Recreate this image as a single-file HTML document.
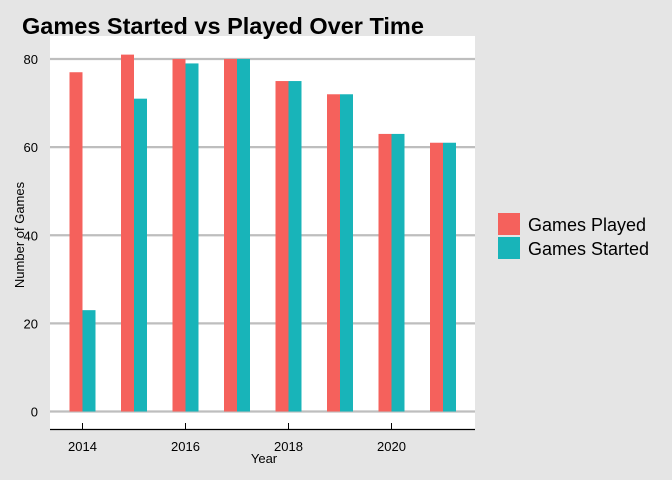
<!DOCTYPE html>
<html><head><meta charset="utf-8"><style>
body{margin:0;background:#e5e5e5;}
svg{display:block;font-family:"Liberation Sans",Arial,sans-serif;}
</style></head><body>
<svg width="672" height="480">
<rect width="672" height="480" fill="#e5e5e5"/>
<rect x="50" y="36" width="425" height="393" fill="#fff"/>
<text x="22" y="34" font-size="23.5" font-weight="bold" fill="#000">Games Started vs Played Over Time</text>
<g id="grid"></g><g id="bars"></g><g id="xaxis"></g><g id="yaxis"></g>
<line x1="50" y1="429.5" x2="475" y2="429.5" stroke="#000" stroke-width="1.2"/>
<text x="264" y="463" font-size="13" text-anchor="middle">Year</text>
<text transform="translate(24,235) rotate(-90)" font-size="13" text-anchor="middle">Number of Games</text>
<g>
<rect x="498" y="213" width="22" height="22" fill="#F5615C"/>
<text x="528" y="231" font-size="18">Games Played</text>
<rect x="498" y="237" width="22" height="22" fill="#18b4b9"/>
<text x="528" y="255" font-size="18">Games Started</text>
</g>
</svg>
<script>
const years=[2014,2015,2016,2017,2018,2019,2020,2021];
const played=[77,81,80,80,75,72,63,61];
const started=[23,71,79,80,75,72,63,61];
const yTicks=[0,20,40,60,80];
const xTicks=[2014,2016,2018,2020];
const NS="http://www.w3.org/2000/svg";
const xs=y=>82.5+(y-2014)*51.5;
const ys=v=>411.5-v*4.406;
function mk(t,a,p){const e=document.createElementNS(NS,t);for(const k in a)e.setAttribute(k,a[k]);p.appendChild(e);return e;}
const g=document.getElementById('grid'),b=document.getElementById('bars'),xa=document.getElementById('xaxis'),ya=document.getElementById('yaxis');
yTicks.forEach(v=>{
 const l=mk('line',{x1:50,x2:475,y1:ys(v),y2:ys(v),stroke:'#bebebe','stroke-width':2.2},g);
 
 
 const t=mk('text',{x:38,y:ys(v)+5,'font-size':13,'text-anchor':'end'},ya);t.textContent=v;
 
 
});
years.forEach((y,i)=>{
 const r1=mk('rect',{x:xs(y)-13,y:ys(played[i]),width:13,height:ys(0)-ys(played[i]),fill:'#F5615C'},b);
 
 
 const r2=mk('rect',{x:xs(y),y:ys(started[i]),width:13,height:ys(0)-ys(started[i]),fill:'#18b4b9'},b);
 
 
});
xTicks.forEach(y=>{
 const l=mk('line',{x1:xs(y),x2:xs(y),y1:423,y2:429,stroke:'#000','stroke-width':1},xa);
 
 
 const t=mk('text',{x:xs(y),y:451,'font-size':13,'text-anchor':'middle'},xa);t.textContent=y;
 
 
});
</script>
</body></html>
